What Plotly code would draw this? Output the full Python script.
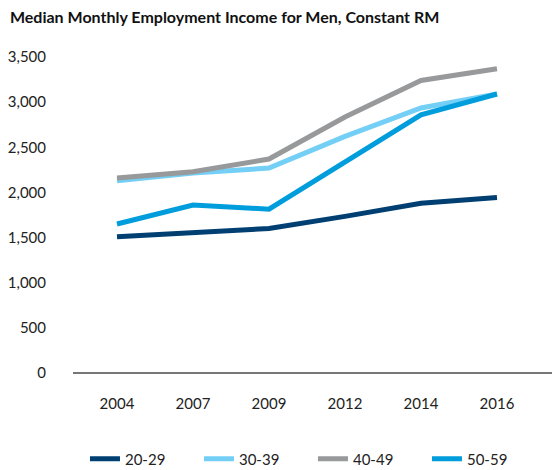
import plotly.graph_objects as go

years = ["2004", "2007", "2009", "2012", "2014", "2016"]
age_20_29 = [1510, 1550, 1600, 1735, 1880, 1945]
age_30_39 = [2130, 2215, 2270, 2620, 2935, 3090]
age_40_49 = [2160, 2230, 2370, 2835, 3240, 3370]
age_50_59 = [1650, 1860, 1815, 2330, 2860, 3090]

series = [
    ("20-29", age_20_29, "#003f72"),
    ("30-39", age_30_39, "#73cff5"),
    ("40-49", age_40_49, "#98999b"),
    ("50-59", age_50_59, "#009ddc"),
]

fig = go.Figure()
for name, vals, color in series:
    fig.add_trace(go.Scatter(x=years, y=vals, name=name, mode="lines",
                             line=dict(color=color, width=5)))

fig.update_layout(
    width=552,
    height=470,
    margin=dict(l=73, r=0, t=57, b=97, autoexpand=False),
    plot_bgcolor="white",
    paper_bgcolor="white",
    font=dict(family="Lato, Noto Sans, sans-serif", size=15, color="#222222"),
    title=dict(text="<b>Median Monthly Employment Income for Men, Constant RM</b>",
               x=0.018, xanchor="left", yref="container", y=0.962, yanchor="middle",
               font=dict(size=16, color="#111111")),
    showlegend=True,
    legend=dict(orientation="h", x=0.025, xanchor="left", y=-0.272, yanchor="middle",
                entrywidth=69, font=dict(size=15), itemwidth=30),
)
fig.update_xaxes(type="category", range=[-0.579, 5.724], showgrid=False,
                 showline=False, zeroline=False, ticks="", ticklabelstandoff=20)
fig.update_yaxes(range=[0, 3500], dtick=500, tickformat=",", showgrid=False,
                 zeroline=True, zerolinecolor="#777777", zerolinewidth=2,
                 showline=False, ticks="", ticklabelstandoff=26)

# drop the default 8px page margin so the figure sits at the window's corner
fig.write_html("out.html", config={"displayModeBar": False},
               post_script="document.body.style.margin = '0';")
